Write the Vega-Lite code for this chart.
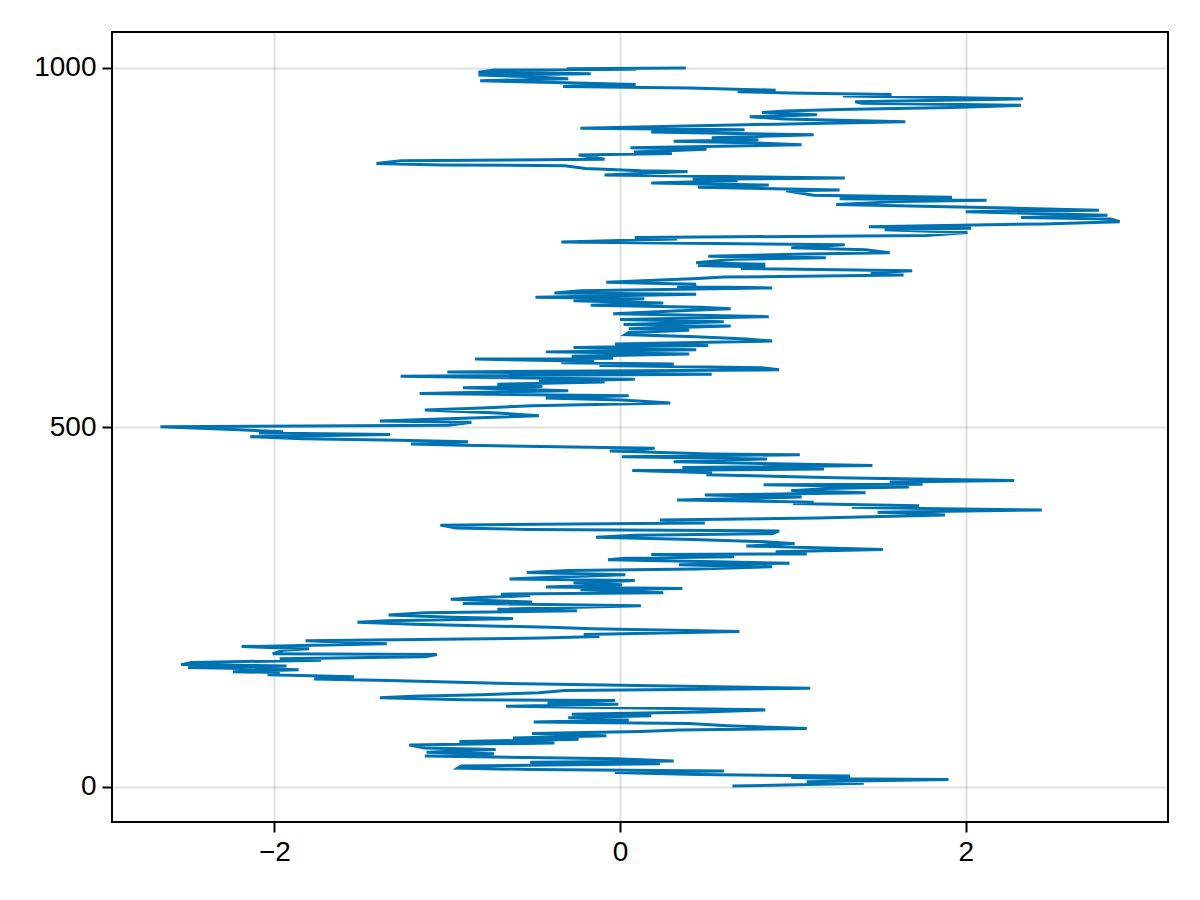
{
  "$schema": "https://vega.github.io/schema/vega-lite/v6.json",
  "width": 1056,
  "height": 790,
  "autosize": {"type": "none"},
  "padding": {"left": 112, "top": 32, "right": 32, "bottom": 78},
  "background": "white",
  "data": {
    "values": [
      {"i": 1, "v": 0.65}, {"i": 5, "v": 1.41}, {"i": 7, "v": 1.08}, {"i": 10, "v": 1.9}, {"i": 11, "v": 1.42},
      {"i": 13, "v": 0.99}, {"i": 15, "v": 1.33}, {"i": 17, "v": 0.45}, {"i": 20, "v": -0.03}, {"i": 22, "v": 0.6},
      {"i": 24, "v": -0.51}, {"i": 26, "v": -0.94}, {"i": 29, "v": -0.92}, {"i": 32, "v": 0.23}, {"i": 34, "v": -0.52},
      {"i": 36, "v": 0.31}, {"i": 39, "v": -0.03}, {"i": 43, "v": -1.13}, {"i": 46, "v": -0.73}, {"i": 48, "v": -1.12},
      {"i": 52, "v": -0.72}, {"i": 54, "v": -1.13}, {"i": 58, "v": -1.22}, {"i": 61, "v": -0.38}, {"i": 63, "v": -0.93},
      {"i": 66, "v": -0.24}, {"i": 68, "v": -0.62}, {"i": 71, "v": -0.08}, {"i": 74, "v": -0.51}, {"i": 77, "v": 0.12},
      {"i": 79, "v": 0.34}, {"i": 81, "v": 1.08}, {"i": 85, "v": 0.62}, {"i": 88, "v": 0.4}, {"i": 90, "v": -0.5},
      {"i": 93, "v": 0.05}, {"i": 96, "v": -0.3}, {"i": 99, "v": 0.18}, {"i": 101, "v": -0.28}, {"i": 104, "v": 0.48},
      {"i": 107, "v": 0.84}, {"i": 109, "v": 0.31}, {"i": 112, "v": -0.66}, {"i": 115, "v": -0.01}, {"i": 117, "v": -0.42},
      {"i": 120, "v": -0.03}, {"i": 121, "v": -0.91}, {"i": 124, "v": -1.39}, {"i": 126, "v": -1.2}, {"i": 128, "v": -0.8},
      {"i": 131, "v": -0.47}, {"i": 134, "v": -0.32}, {"i": 137, "v": 1.1}, {"i": 140, "v": 0.38}, {"i": 144, "v": -0.71},
      {"i": 148, "v": -1.34}, {"i": 150, "v": -1.77}, {"i": 153, "v": -1.54}, {"i": 156, "v": -2.04}, {"i": 159, "v": -1.97},
      {"i": 160, "v": -2.24}, {"i": 163, "v": -1.86}, {"i": 166, "v": -2.5}, {"i": 168, "v": -1.93}, {"i": 170, "v": -2.54},
      {"i": 173, "v": -2.48}, {"i": 176, "v": -1.73}, {"i": 178, "v": -1.97}, {"i": 181, "v": -1.13}, {"i": 184, "v": -1.06},
      {"i": 185, "v": -2.01}, {"i": 190, "v": -1.95}, {"i": 192, "v": -1.8}, {"i": 195, "v": -2.19}, {"i": 199, "v": -1.35},
      {"i": 203, "v": -1.82}, {"i": 207, "v": -0.45}, {"i": 209, "v": -0.12}, {"i": 212, "v": -0.21}, {"i": 216, "v": 0.69},
      {"i": 220, "v": -0.16}, {"i": 222, "v": -0.41}, {"i": 226, "v": -1.19}, {"i": 229, "v": -1.52}, {"i": 231, "v": -1.35},
      {"i": 234, "v": -0.62}, {"i": 236, "v": -0.97}, {"i": 239, "v": -1.34}, {"i": 242, "v": -1.13}, {"i": 245, "v": -0.25},
      {"i": 247, "v": -0.71}, {"i": 252, "v": 0.12}, {"i": 255, "v": -0.91}, {"i": 257, "v": -0.51}, {"i": 261, "v": -0.98},
      {"i": 263, "v": -0.84}, {"i": 266, "v": -0.52}, {"i": 268, "v": -0.69}, {"i": 270, "v": 0.25}, {"i": 274, "v": -0.23},
      {"i": 276, "v": 0.36}, {"i": 278, "v": -0.43}, {"i": 281, "v": 0.01}, {"i": 284, "v": -0.27}, {"i": 287, "v": 0.085},
      {"i": 289, "v": -0.64}, {"i": 292, "v": -0.36}, {"i": 295, "v": 0.03}, {"i": 298, "v": -0.54}, {"i": 301, "v": -0.3},
      {"i": 303, "v": 0.44}, {"i": 306, "v": 0.88}, {"i": 309, "v": 0.34}, {"i": 311, "v": 0.98}, {"i": 313, "v": 0.55},
      {"i": 316, "v": -0.07}, {"i": 318, "v": 0.03}, {"i": 320, "v": 0.66}, {"i": 323, "v": 0.18}, {"i": 324, "v": 1.08},
      {"i": 327, "v": 0.9}, {"i": 330, "v": 1.52}, {"i": 333, "v": 1.08}, {"i": 335, "v": 0.73}, {"i": 338, "v": 1.01},
      {"i": 341, "v": 0.84}, {"i": 344, "v": 0.42}, {"i": 347, "v": -0.14}, {"i": 350, "v": 0.085}, {"i": 352, "v": 0.88},
      {"i": 356, "v": 0.92}, {"i": 358, "v": -0.54}, {"i": 360, "v": -0.95}, {"i": 364, "v": -1.04}, {"i": 367, "v": 0.49},
      {"i": 371, "v": 0.23}, {"i": 374, "v": 1.14}, {"i": 378, "v": 1.88}, {"i": 382, "v": 1.49}, {"i": 385, "v": 2.44},
      {"i": 387, "v": 1.75}, {"i": 389, "v": 1.34}, {"i": 391, "v": 1.73}, {"i": 394, "v": 1.0}, {"i": 396, "v": 1.12},
      {"i": 399, "v": 0.33}, {"i": 403, "v": 1.05}, {"i": 406, "v": 0.49}, {"i": 409, "v": 1.42}, {"i": 412, "v": 0.99},
      {"i": 415, "v": 1.2}, {"i": 417, "v": 1.67}, {"i": 420, "v": 0.83}, {"i": 421, "v": 1.75}, {"i": 424, "v": 1.56},
      {"i": 426, "v": 2.28}, {"i": 430, "v": 1.25}, {"i": 434, "v": 0.5}, {"i": 437, "v": 0.53}, {"i": 440, "v": 0.07},
      {"i": 442, "v": 1.18}, {"i": 444, "v": 0.36}, {"i": 447, "v": 1.46}, {"i": 450, "v": 0.75}, {"i": 452, "v": 0.31},
      {"i": 456, "v": 0.85}, {"i": 459, "v": 0.01}, {"i": 462, "v": 1.04}, {"i": 463, "v": 0.52}, {"i": 466, "v": 0.1},
      {"i": 467, "v": -0.06}, {"i": 471, "v": 0.2}, {"i": 475, "v": -0.91}, {"i": 477, "v": -1.21}, {"i": 480, "v": -0.88},
      {"i": 482, "v": -1.28}, {"i": 484, "v": -1.84}, {"i": 487, "v": -2.14}, {"i": 490, "v": -1.33}, {"i": 492, "v": -2.09},
      {"i": 494, "v": -1.95}, {"i": 497, "v": -2.24}, {"i": 501, "v": -2.66}, {"i": 503, "v": -0.99}, {"i": 507, "v": -0.86},
      {"i": 509, "v": -1.39}, {"i": 513, "v": -0.86}, {"i": 516, "v": -0.47}, {"i": 520, "v": -0.71}, {"i": 524, "v": -1.13},
      {"i": 527, "v": -0.8}, {"i": 530, "v": -0.51}, {"i": 534, "v": 0.29}, {"i": 538, "v": 0.01}, {"i": 541, "v": -0.43},
      {"i": 544, "v": 0.05}, {"i": 547, "v": -1.16}, {"i": 551, "v": -0.3}, {"i": 553, "v": -0.6}, {"i": 555, "v": -0.91},
      {"i": 557, "v": -0.45}, {"i": 560, "v": -0.71}, {"i": 563, "v": -0.09}, {"i": 564, "v": -0.47}, {"i": 567, "v": 0.085},
      {"i": 571, "v": -1.27}, {"i": 574, "v": 0.53}, {"i": 577, "v": -1.0}, {"i": 580, "v": 0.92}, {"i": 583, "v": 0.82},
      {"i": 586, "v": -0.12}, {"i": 588, "v": 0.31}, {"i": 590, "v": -0.34}, {"i": 592, "v": -0.15}, {"i": 595, "v": -0.84},
      {"i": 596, "v": -0.04}, {"i": 599, "v": -0.28}, {"i": 602, "v": 0.4}, {"i": 605, "v": -0.43}, {"i": 608, "v": 0.44},
      {"i": 611, "v": -0.27}, {"i": 614, "v": 0.51}, {"i": 616, "v": -0.03}, {"i": 620, "v": 0.88}, {"i": 623, "v": 0.73},
      {"i": 626, "v": 0.44}, {"i": 629, "v": 0.03}, {"i": 632, "v": 0.05}, {"i": 635, "v": 0.4}, {"i": 637, "v": 0.05},
      {"i": 641, "v": 0.64}, {"i": 643, "v": 0.02}, {"i": 647, "v": 0.6}, {"i": 650, "v": 0.0}, {"i": 654, "v": 0.86},
      {"i": 658, "v": -0.04}, {"i": 662, "v": 0.31}, {"i": 665, "v": 0.64}, {"i": 667, "v": 0.47}, {"i": 670, "v": -0.17},
      {"i": 673, "v": 0.25}, {"i": 676, "v": -0.27}, {"i": 679, "v": 0.14}, {"i": 681, "v": -0.49}, {"i": 685, "v": 0.44},
      {"i": 687, "v": -0.38}, {"i": 690, "v": -0.23}, {"i": 694, "v": 0.88}, {"i": 696, "v": 0.33}, {"i": 699, "v": 0.44},
      {"i": 702, "v": -0.08}, {"i": 707, "v": 0.45}, {"i": 709, "v": 0.6}, {"i": 712, "v": 1.64}, {"i": 715, "v": 1.45},
      {"i": 718, "v": 1.69}, {"i": 721, "v": 0.7}, {"i": 723, "v": 0.84}, {"i": 725, "v": 0.45}, {"i": 727, "v": 0.84},
      {"i": 729, "v": 0.44}, {"i": 734, "v": 0.66}, {"i": 736, "v": 1.19}, {"i": 738, "v": 0.51}, {"i": 741, "v": 1.08},
      {"i": 743, "v": 1.56}, {"i": 747, "v": 1.42}, {"i": 750, "v": 0.99}, {"i": 754, "v": 1.3}, {"i": 758, "v": -0.34},
      {"i": 762, "v": 0.33}, {"i": 764, "v": 0.085}, {"i": 767, "v": 1.77}, {"i": 771, "v": 2.01}, {"i": 775, "v": 1.53},
      {"i": 777, "v": 2.03}, {"i": 779, "v": 1.44}, {"i": 783, "v": 2.45}, {"i": 786, "v": 2.89}, {"i": 790, "v": 2.84},
      {"i": 792, "v": 2.32}, {"i": 795, "v": 2.82}, {"i": 800, "v": 2.0}, {"i": 802, "v": 2.77}, {"i": 805, "v": 2.25},
      {"i": 810, "v": 1.25}, {"i": 814, "v": 1.6}, {"i": 816, "v": 2.12}, {"i": 818, "v": 1.27}, {"i": 820, "v": 1.92},
      {"i": 823, "v": 1.12}, {"i": 829, "v": 0.96}, {"i": 830, "v": 1.27}, {"i": 834, "v": 0.45}, {"i": 837, "v": 0.86},
      {"i": 840, "v": 0.18}, {"i": 843, "v": 0.68}, {"i": 845, "v": 0.42}, {"i": 847, "v": 1.3}, {"i": 851, "v": -0.09},
      {"i": 856, "v": 0.39}, {"i": 857, "v": 0.12}, {"i": 860, "v": -0.2}, {"i": 864, "v": -0.32}, {"i": 865, "v": -1.03},
      {"i": 867, "v": -1.41}, {"i": 871, "v": -1.27}, {"i": 873, "v": -0.09}, {"i": 879, "v": -0.24}, {"i": 881, "v": 0.3},
      {"i": 883, "v": 0.08}, {"i": 887, "v": 0.5}, {"i": 889, "v": 0.06}, {"i": 893, "v": 1.05}, {"i": 896, "v": 0.74},
      {"i": 898, "v": 0.31}, {"i": 900, "v": 0.8}, {"i": 903, "v": 0.53}, {"i": 907, "v": 1.12}, {"i": 909, "v": 0.59},
      {"i": 911, "v": 0.18}, {"i": 914, "v": 0.72}, {"i": 916, "v": -0.23}, {"i": 921, "v": 0.72}, {"i": 925, "v": 1.65},
      {"i": 929, "v": 0.95}, {"i": 932, "v": 0.75}, {"i": 935, "v": 1.14}, {"i": 938, "v": 0.82}, {"i": 940, "v": 0.96},
      {"i": 942, "v": 1.27}, {"i": 945, "v": 1.92}, {"i": 948, "v": 2.32}, {"i": 951, "v": 1.4}, {"i": 953, "v": 1.36},
      {"i": 957, "v": 2.33}, {"i": 959, "v": 1.88}, {"i": 961, "v": 1.29}, {"i": 963, "v": 1.57}, {"i": 965, "v": 0.98},
      {"i": 967, "v": 0.68}, {"i": 969, "v": 0.9}, {"i": 972, "v": 0.4}, {"i": 974, "v": -0.33}, {"i": 977, "v": 0.09},
      {"i": 979, "v": -0.25}, {"i": 982, "v": -0.81}, {"i": 985, "v": -0.3}, {"i": 988, "v": -0.55}, {"i": 990, "v": -0.82},
      {"i": 992, "v": -0.17}, {"i": 994, "v": -0.82}, {"i": 997, "v": -0.73}, {"i": 998, "v": 0.09}, {"i": 999, "v": -0.31},
      {"i": 1000, "v": 0.38}
    ]
  },
  "mark": {"type": "line", "color": "#0072b2", "strokeWidth": 3, "clip": true},
  "encoding": {
    "x": {
      "field": "v",
      "type": "quantitative",
      "scale": {"domain": [-2.94, 3.17], "nice": false, "zero": false},
      "axis": {"values": [-2, 0, 2], "format": "d", "title": null}
    },
    "y": {
      "field": "i",
      "type": "quantitative",
      "scale": {"domain": [-48.95, 1049.95], "nice": false, "zero": false},
      "axis": {"values": [0, 500, 1000], "format": "d", "title": null}
    },
    "order": {"field": "i", "type": "quantitative"}
  },
  "config": {
    "view": {"stroke": "black", "strokeWidth": 2},
    "axis": {
      "domain": false,
      "grid": true,
      "gridColor": "#000000",
      "gridOpacity": 0.12,
      "gridWidth": 2,
      "ticks": true,
      "tickColor": "black",
      "tickSize": 10,
      "tickWidth": 2,
      "labelFont": "Liberation Sans",
      "labelFontSize": 28,
      "labelColor": "black",
      "labelPadding": 6
    }
  }
}
